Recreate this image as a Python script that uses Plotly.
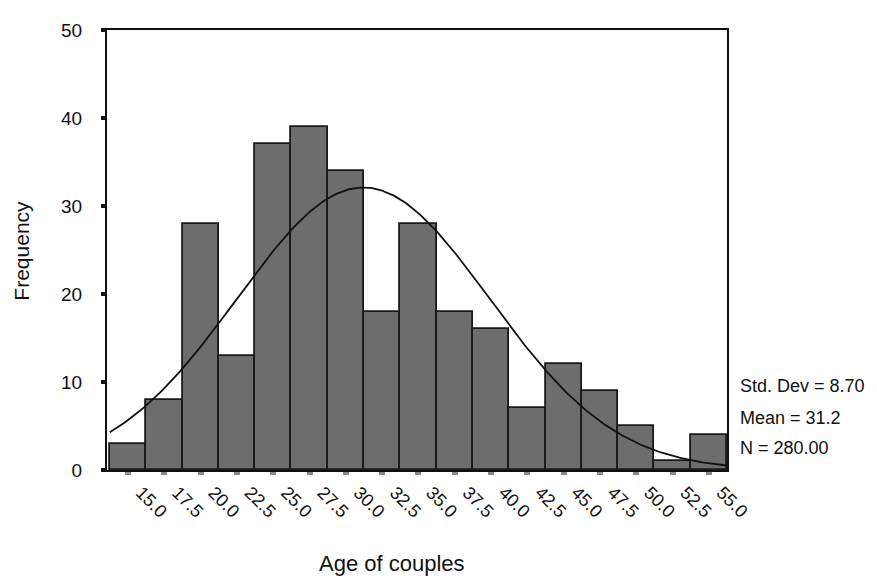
import numpy as np
import plotly.graph_objects as go

# ---- data ----
bin_centers = [15.0, 17.5, 20.0, 22.5, 25.0, 27.5, 30.0, 32.5, 35.0, 37.5,
               40.0, 42.5, 45.0, 47.5, 50.0, 52.5, 55.0]
tick_labels = ["15.0", "17.5", "20.0", "22.5", "25.0", "27.5", "30.0", "32.5",
               "35.0", "37.5", "40.0", "42.5", "45.0", "47.5", "50.0", "52.5", "55.0"]
counts = [3, 8, 28, 13, 37, 39, 34, 18, 28, 18, 16, 7, 12, 9, 5, 1, 4]
y_ticks = [0, 10, 20, 30, 40, 50]
std_dev = 8.70
mean_val = 31.2
n_total = 280
bin_width = 2.5

# fitted normal curve (from the stats printed on the chart)
x_lo = bin_centers[0] - bin_width / 2
x_hi = bin_centers[-1] + bin_width / 2
xc = np.linspace(x_lo, x_hi, 300)
yc = n_total * bin_width / (std_dev * np.sqrt(2 * np.pi)) * np.exp(-0.5 * ((xc - mean_val) / std_dev) ** 2)

FONT = "Liberation Sans, Arial, sans-serif"
INK = "#111111"

fig = go.Figure()
fig.add_trace(go.Bar(
    x=bin_centers, y=counts, width=bin_width,
    marker=dict(color="#6d6d6d", line=dict(color="#1a1a1a", width=1.8)),
    showlegend=False,
))
fig.add_trace(go.Scatter(
    x=xc, y=yc, mode="lines",
    line=dict(color=INK, width=1.8),
    showlegend=False,
))

# page body has an 8px margin, so the figure is offset by 8px
fig.update_layout(
    width=869, height=570,
    margin=dict(l=99, r=150, t=14, b=108),
    paper_bgcolor="white", plot_bgcolor="white",
    font=dict(family=FONT, size=18, color=INK),
    bargap=0,
)
fig.update_xaxes(
    range=[x_lo - 0.2, x_hi],
    tickmode="array", tickvals=bin_centers, ticktext=tick_labels,
    tickangle=45,
    ticks="outside", ticklen=3, tickwidth=6, tickcolor="#8a8a8a",
    ticklabelshift=13,
    showline=True, linecolor=INK, linewidth=2, mirror=True,
    showgrid=False, zeroline=False,
    tickfont=dict(family=FONT, size=18, color=INK),
)
fig.update_yaxes(
    range=[0, 50],
    tickmode="array", tickvals=y_ticks,
    ticks="outside", ticklen=4, tickwidth=4, tickcolor=INK,
    ticklabelstandoff=15,
    showline=True, linecolor=INK, linewidth=2, mirror=True,
    showgrid=False, zeroline=False,
    tickfont=dict(family=FONT, size=19, color=INK),
)

fig.add_annotation(text="Frequency", xref="paper", yref="paper",
                   x=-0.1375, y=0.498, textangle=-90, showarrow=False,
                   xanchor="center", yanchor="middle",
                   font=dict(family=FONT, size=21, color=INK))
fig.add_annotation(text="Age of couples", xref="paper", yref="paper",
                   x=0.46, y=-0.212, showarrow=False,
                   xanchor="center", yanchor="middle",
                   font=dict(family=FONT, size=22, color=INK))

stats_lines = [f"Std. Dev = {std_dev:.2f}", f"Mean = {mean_val:.1f}", f"N = {n_total:.2f}"]
stats_y = [0.19, 0.118, 0.049]
for s, yy in zip(stats_lines, stats_y):
    fig.add_annotation(text=s, xref="paper", yref="paper",
                       x=1.017, y=yy, showarrow=False,
                       xanchor="left", yanchor="middle",
                       font=dict(family=FONT, size=18, color=INK))

fig.write_html("out.html")
